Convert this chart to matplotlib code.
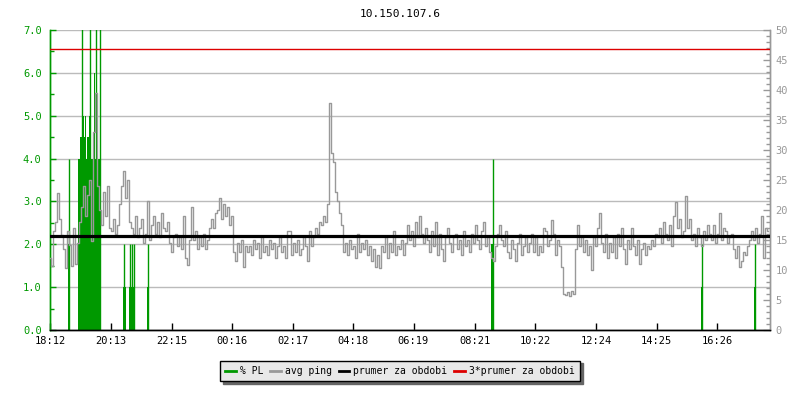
import numpy as np
import matplotlib
matplotlib.use("Agg")
import matplotlib.pyplot as plt
from matplotlib.lines import Line2D
from matplotlib.ticker import MultipleLocator, FormatStrFormatter

plt.rcParams['font.family'] = ['DejaVu Sans Mono']
plt.rcParams['font.size'] = 7.5

title = "10.150.107.6"

# avg ping [ms], one sample every 4 minutes starting at 18:12
ping = [
    12, 10.7, 16.5, 18, 22.8, 18.5, 15.8, 13.5, 10.3, 16.5, 14.2, 10.7, 17, 11, 14.5, 18, 20.5, 24, 19, 22.5,
    25, 14.8, 33, 39.5, 24, 20, 17.5, 23, 19, 24, 17, 16.5, 18.5, 16, 17.5, 21, 24, 26.5, 22, 25,
    18, 17, 16, 19, 15.5, 17, 18.5, 14.5, 16, 21.5, 15, 17.5, 19, 16, 18, 15.5, 19.5, 17, 16.5, 18,
    14.5, 13, 15.5, 16, 14, 15.5, 13.5, 19, 12, 10.8, 15, 20.5, 15, 16.5, 13.5, 15.5, 14, 16, 13.5, 15,
    17, 18.5, 17, 19.5, 20, 22, 18.5, 21, 19, 20.5, 17.5, 19, 13, 11.5, 14.5, 13, 15, 10.5, 14, 13,
    14, 12.5, 15, 13.5, 14.5, 12, 15.5, 13, 14, 12.5, 15, 13.5, 14.5, 12, 14, 15.5, 13, 14, 12, 16.5,
    16.5, 12.5, 14.5, 13, 15, 12.5, 13.5, 15.5, 14, 11.5, 16.5, 14, 15.5, 17, 16, 18, 17.5, 19, 18, 21,
    37.8, 29.5, 28, 23, 21.5, 19.5, 17.5, 13, 14.5, 12.5, 15, 13.5, 14, 12, 16, 13, 14.5, 13.5, 15, 12.5,
    14, 11.5, 13.5, 10.5, 12.5, 10.3, 14, 13, 15.5, 12, 14.5, 13, 16.5, 12.5, 14, 13.5, 15, 12.5, 14.5, 17.5,
    15, 16.5, 14, 18, 15.5, 19, 16, 14.5, 17, 15, 13, 16.5, 14, 18, 12.5, 16, 13.5, 11.5, 15.5, 17,
    14.5, 13, 15.5, 16, 13.5, 15, 12.5, 16.5, 14, 15, 13, 16, 14.5, 17.5, 15, 13.5, 16.5, 18, 14, 15.5,
    13, 12, 11.5, 14, 16, 17.5, 15, 14, 16.5, 13, 12, 15, 13.5, 11.5, 14.5, 16, 12.5, 14, 15.5, 13,
    14.5, 16, 13, 15.5, 12.5, 14, 13, 17, 16.5, 14, 15, 18.3, 16, 12.5, 15, 14, 10.5, 6, 5.8, 6.4,
    5.6, 6.5, 6, 13.5, 17.5, 14, 15.5, 13, 15, 12.5, 14, 10, 15.5, 14, 17, 19.5, 14.5, 13, 16, 12,
    14.5, 13, 15.5, 12, 16, 14, 17, 13.5, 11, 15, 13.5, 17, 14, 12.5, 15, 11, 13.5, 14.5, 12.5, 14,
    13.5, 15, 14, 16, 15.5, 17, 14.5, 18, 16, 15, 17.5, 14, 19, 21.3, 17, 18.5, 15.5, 16.5, 22.3, 17,
    18.5, 15, 16, 14, 17, 15.5, 14, 16.5, 15, 17.5, 16, 15, 17.5, 14.5, 16, 19.5, 15, 17, 16.5, 14.5,
    15.5, 16, 13.5, 12, 14, 10.5, 11.5, 13, 12.5, 14, 15, 16.5, 15, 17, 14.5, 16, 19, 12, 17, 16.5,
]
ping_step = 4  # minutes between samples

# packet loss [%] - wide parts (start, end in minutes from 18:12)
pl_start = [35, 56, 60, 64, 67, 70, 72, 74, 77, 79, 88, 90, 145, 157, 193, 882, 1302, 1408]
pl_end = [38, 60, 64, 67, 70, 72, 74, 77, 79, 88, 90, 101, 151, 170, 198, 888, 1306, 1412]
pl_val = [2.0, 4.0, 4.5, 5.0, 4.5, 5.0, 4.0, 4.5, 5.0, 4.0, 6.0, 4.0, 1.0, 1.0, 1.0, 2.0, 1.0, 1.0]
# packet loss peaks
pl_peak_t = [37, 63, 79, 91, 99, 148, 159, 163, 167, 196, 885, 1304, 1410]
pl_peak_v = [4.0, 10, 10, 10, 10, 2.0, 2.0, 2.0, 2.0, 2.0, 4.0, 2.0, 2.0]

mean_ping = 15.6
tick_min = [0, 121, 243, 364, 485, 606, 727, 849, 970, 1092, 1213, 1334]
tick_lab = ["18:12", "20:13", "22:15", "00:16", "02:17", "04:18", "06:19",
            "08:21", "10:22", "12:24", "14:25", "16:26"]

GREEN = "#009900"
GREY = "#999999"

fig = plt.figure(figsize=(8, 4), dpi=100)
ax = fig.add_axes([50/800, 70/400, 720/800, 300/400])
ax2 = ax.twinx()

# packet loss on left axis
ax.bar(pl_start, np.array(pl_val), width=np.array(pl_end) - np.array(pl_start),
       align='edge', color=GREEN, linewidth=0, zorder=2)
ax.vlines(pl_peak_t, 0, pl_peak_v, color=GREEN, lw=1.0, zorder=2)
ax.set_ylim(0, 7)
ax.set_xlim(0, 1440)
ax.yaxis.set_major_locator(MultipleLocator(1))
ax.yaxis.set_minor_locator(MultipleLocator(0.5))
ax.yaxis.set_major_formatter(FormatStrFormatter("%.1f"))
ax.grid(axis='y', color="#bbbbbb", lw=1.0, zorder=0)
ax.set_axisbelow(True)
ax.tick_params(axis='y', which='both', direction='in', colors=GREEN, labelcolor=GREEN, right=False)
ax.tick_params(axis='y', which='major', length=4, width=1, pad=6)
ax.tick_params(axis='y', which='minor', length=3, width=1)
ax.set_xticks(tick_min)
ax.set_xticklabels(tick_lab)
ax.tick_params(axis='x', direction='in', length=5, width=1, color='black', pad=4)

# ping on right axis
t = np.arange(len(ping)) * ping_step
ax2.plot(t, ping, color=GREY, lw=1.0, drawstyle='steps-mid', zorder=3)
ax2.axhline(mean_ping, color='black', lw=2.3, zorder=4)
ax2.axhline(3 * mean_ping, color='#dd0000', lw=1.0, zorder=4)
ax2.set_ylim(0, 50)
ax2.set_xlim(0, 1440)
ax2.yaxis.set_major_locator(MultipleLocator(5))
ax2.yaxis.set_minor_locator(MultipleLocator(1))
ax2.tick_params(axis='y', which='both', direction='in', colors=GREY, labelcolor=GREY)
ax2.tick_params(axis='y', which='major', length=5, width=1, pad=4)
ax2.tick_params(axis='y', which='minor', length=3, width=1)

for a in (ax, ax2):
    a.spines['top'].set_visible(False)
    a.spines['left'].set_color(GREEN)
    a.spines['right'].set_color(GREY)
    a.spines['bottom'].set_color('black')
    for s in a.spines.values():
        s.set_linewidth(1.0)

fig.text(0.5, 1 - 14/400, title, ha='center', va='center', fontsize=8)

handles = [Line2D([], [], color=GREEN, lw=2),
           Line2D([], [], color=GREY, lw=2),
           Line2D([], [], color='black', lw=2),
           Line2D([], [], color='#dd0000', lw=2)]
labels = ["% PL", "avg ping", "prumer za obdobi", "3*prumer za obdobi"]
leg = fig.legend(handles, labels, loc='center', bbox_to_anchor=(0.5, 1 - 371/400), ncol=4,
                 handlelength=1.1, handletextpad=0.4, columnspacing=0.7, fontsize=7,
                 fancybox=False, edgecolor='black', facecolor='#e8e8e8', framealpha=1,
                 shadow={'color': '#666666', 'alpha': 1}, borderpad=0.55)
leg.get_frame().set_linewidth(1.0)

fig.savefig("out.png", dpi=100)
